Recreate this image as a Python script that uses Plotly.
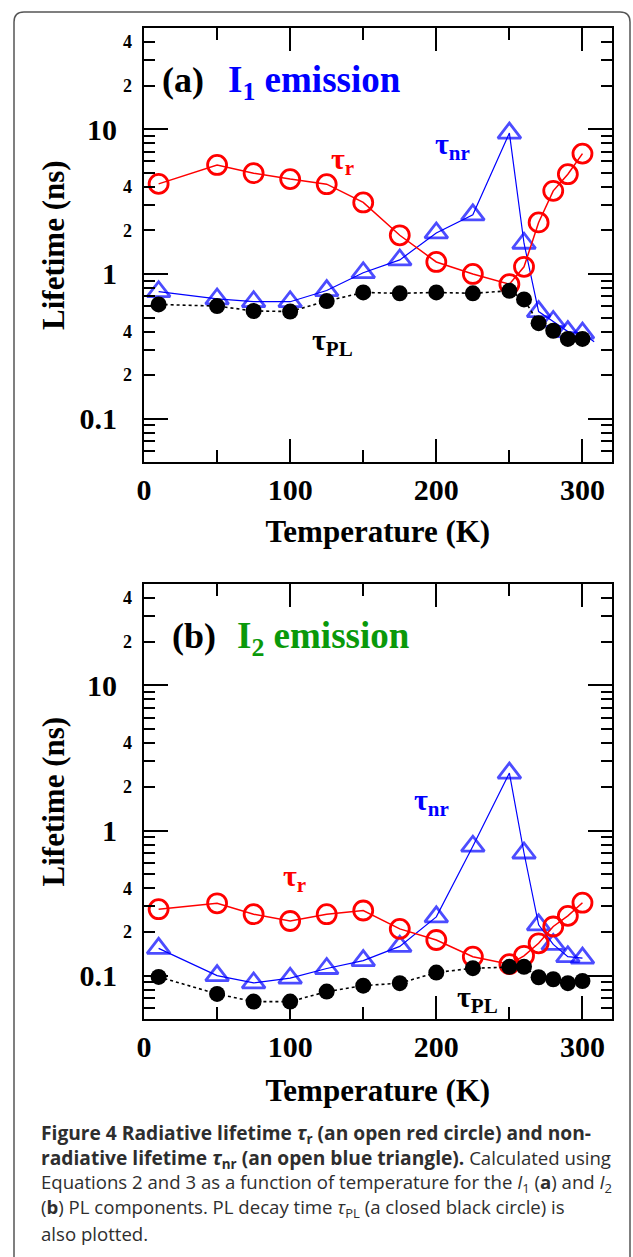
import math
import plotly.graph_objects as go

# ---------------- data ----------------
temps = [10, 50, 75, 100, 125, 150, 175, 200, 225, 250, 260, 270, 280, 290, 300]

a_tau_r = [4.19, 5.66, 4.97, 4.52, 4.17, 3.12, 1.85, 1.21, 1.0, 0.85, 1.12, 2.27, 3.75, 4.89, 6.78]
a_tau_nr_T = temps + [308]
a_tau_nr = [0.754, 0.672, 0.643, 0.643, 0.768, 1.02, 1.25, 1.92, 2.56, 9.4, 1.63, 0.55, 0.47, 0.40, 0.39, 0.34]
a_tau_pl = [0.616, 0.60, 0.555, 0.55, 0.65, 0.745, 0.735, 0.745, 0.735, 0.765, 0.667, 0.457, 0.405, 0.356, 0.356]

b_tau_r = [0.287, 0.315, 0.265, 0.238, 0.265, 0.281, 0.21, 0.176, 0.135, 0.12, 0.137, 0.167, 0.218, 0.258, 0.318]
b_tau_nr = [0.154, 0.100, 0.089, 0.096, 0.112, 0.127, 0.159, 0.254, 0.78, 2.49, 0.70, 0.224, 0.164, 0.135, 0.132]
b_tau_pl = [0.098, 0.0748, 0.0662, 0.0662, 0.0776, 0.0853, 0.0887, 0.105, 0.1125, 0.115, 0.115, 0.0975, 0.0944, 0.0887, 0.0918]

x_major = [0, 100, 200, 300]
x_minor = [50, 150, 250]
y_major = [0.1, 1, 10]
y_major_text = ["0.1", "1", "10"]
y_label_minor = [0.2, 0.4, 2, 4, 20, 40]
y_label_minor_text = ["2", "4", "2", "4", "2", "4"]
y_minor = [0.06, 0.07, 0.08, 0.09, 0.2, 0.3, 0.4, 0.5, 0.6, 0.7, 0.8, 0.9,
           2, 3, 4, 5, 6, 7, 8, 9, 20, 30, 40]

Y_RANGE = [math.log10(0.05), math.log10(50)]
X_RANGE = [0, 320]

W, H = 633, 1257
SERIF = "Liberation Serif"
RED, BLUE, GREEN = "#ff0000", "#0000ff", "#0a990a"

def px_x(p):
    return p / W

def px_y(p):
    return 1 - p / H

fig = go.Figure()

panels = [
    dict(xa="x", ya="y", ya_minor="y3", r=a_tau_r, nr_T=a_tau_nr_T, nr=a_tau_nr, pl=a_tau_pl),
    dict(xa="x2", ya="y2", ya_minor="y4", r=b_tau_r, nr_T=temps, nr=b_tau_nr, pl=b_tau_pl),
]

for p in panels:
    sizes = [20] * len(p["nr"])
    if len(p["nr"]) > len(temps):
        sizes[-1] = 0
    fig.add_trace(go.Scatter(
        x=p["nr_T"], y=p["nr"], xaxis=p["xa"], yaxis=p["ya"], mode="lines+markers",
        line=dict(color=BLUE, width=1.2),
        marker=dict(symbol="triangle-up-open", size=sizes, color=BLUE, line=dict(width=2.8, color=BLUE)),
        showlegend=False, hoverinfo="skip"))
    fig.add_trace(go.Scatter(
        x=temps, y=p["r"], xaxis=p["xa"], yaxis=p["ya"], mode="lines+markers",
        line=dict(color=RED, width=1.5),
        marker=dict(symbol="circle-open", size=19, color=RED, line=dict(width=2.8, color=RED)),
        showlegend=False, hoverinfo="skip"))
    fig.add_trace(go.Scatter(
        x=temps, y=p["pl"], xaxis=p["xa"], yaxis=p["ya"], mode="lines+markers",
        line=dict(color="black", width=1.6, dash="dot"),
        marker=dict(symbol="circle", size=16, color="black"),
        showlegend=False, hoverinfo="skip"))
    # dummy trace so the label-only overlay axis exists
    fig.add_trace(go.Scatter(x=[None], y=[None], xaxis=p["xa"], yaxis=p["ya_minor"],
                             showlegend=False, hoverinfo="skip"))

x_dom = [px_x(144), px_x(611.7)]

def xaxis_cfg(anchor, title_standoff):
    return dict(
        domain=x_dom, anchor=anchor, range=X_RANGE, showgrid=False, zeroline=False,
        automargin=False,
        showline=True, linewidth=2, linecolor="black", mirror="ticks",
        tickmode="array", tickvals=x_major, ticktext=[str(v) for v in x_major],
        ticks="inside", ticklen=23, tickwidth=2, tickcolor="black",
        minor=dict(tickmode="array", tickvals=x_minor, ticks="inside", ticklen=12,
                   tickwidth=2, tickcolor="black", showgrid=False),
        tickfont=dict(family=SERIF, size=30, color="black", weight="bold"),
        ticklabelstandoff=0,
        title=dict(text="Temperature (K)", font=dict(family=SERIF, size=31, color="black", weight="bold"),
                   standoff=title_standoff),
    )

def yaxis_cfg(anchor, top, bottom):
    return dict(
        domain=[px_y(bottom), px_y(top)], anchor=anchor, type="log", range=Y_RANGE,
        showgrid=False, zeroline=False, automargin=False,
        showline=True, linewidth=2, linecolor="black", mirror="ticks",
        tickmode="array", tickvals=y_major, ticktext=y_major_text,
        ticks="inside", ticklen=24, tickwidth=2, tickcolor="black",
        minor=dict(tickmode="array", tickvals=y_minor, ticks="inside", ticklen=11,
                   tickwidth=2, tickcolor="black", showgrid=False),
        tickfont=dict(family=SERIF, size=30, color="black", weight="bold"),
        ticklabelstandoff=19,
        title=dict(text="Lifetime (ns)", font=dict(family=SERIF, size=31, color="black", weight="bold"),
                   standoff=6),
    )

def yaxis_minor_cfg(overlay, anchor):
    return dict(
        overlaying=overlay, anchor=anchor, type="log", range=Y_RANGE, side="left",
        showgrid=False, zeroline=False, showline=False, automargin=False,
        tickmode="array", tickvals=y_label_minor, ticktext=y_label_minor_text, ticks="",
        tickfont=dict(family=SERIF, size=18, color="black", weight="bold"),
        ticklabelstandoff=11,
    )

fig.update_layout(
    template="none",
    width=W, height=H, margin=dict(l=0, r=0, t=0, b=0, autoexpand=False),
    paper_bgcolor="white", plot_bgcolor="white",
    xaxis=xaxis_cfg("y", 15),
    xaxis2=xaxis_cfg("y2", 17),
    yaxis=yaxis_cfg("x", 28, 462.3),
    yaxis2=yaxis_cfg("x2", 584, 1019.3),
    yaxis3=yaxis_minor_cfg("y", "x"),
    yaxis4=yaxis_minor_cfg("y2", "x2"),
)

ann = []
def label(text, x, ly, xref, yref, color, size=30, xanchor="center"):
    ann.append(dict(text=text, x=x, y=ly, xref=xref, yref=yref, showarrow=False,
                    xanchor=xanchor, yanchor="middle",
                    font=dict(family=SERIF, size=size, color=color, weight="bold")))

# panel (a)
label("(a)", 10.9, 1.337, "x", "y", "black", size=36, xanchor="left")
label("I<sub>1</sub> emission", 56.0, 1.325, "x", "y", BLUE, size=37, xanchor="left")
label("τ<sub>r</sub>", 136, 0.78, "x", "y", RED)
label("τ<sub>nr</sub>", 211, 0.885, "x", "y", BLUE)
label("τ<sub>PL</sub>", 129, -0.47, "x", "y", "black")
# panel (b)
label("(b)", 17.5, 1.34, "x2", "y2", "black", size=36, xanchor="left")
label("I<sub>2</sub> emission", 62, 1.32, "x2", "y2", GREEN, size=37, xanchor="left")
label("τ<sub>r</sub>", 103, -0.325, "x2", "y2", RED)
label("τ<sub>nr</sub>", 197, 0.20, "x2", "y2", BLUE)
label("τ<sub>PL</sub>", 228, -1.16, "x2", "y2", "black")

BS = "<span style='font-size:19.2px'><b>"
BE = "</b></span>"
caption_lines = [
    BS + "Figure 4 Radiative lifetime <i>τ</i><sub>r</sub> (an open red circle) and non-" + BE,
    BS + "radiative lifetime <i>τ</i><sub>nr</sub> (an open blue triangle)." + BE + " Calculated using",
    "Equations 2 and 3 as a function of temperature for the <i>I</i><sub>1</sub> (<b>a</b>) and <i>I</i><sub>2</sub>",
    "(<b>b</b>) PL components. PL decay time <i>τ</i><sub>PL</sub> (a closed black circle) is",
    "also plotted.",
]
cap_y = [1133, 1158, 1183, 1208, 1233]
for t, yy in zip(caption_lines, cap_y):
    ann.append(dict(text=t, x=px_x(39), y=px_y(yy), xref="paper", yref="paper",
                    showarrow=False, xanchor="left", yanchor="middle", align="left",
                    font=dict(family="Open Sans", size=18.6, color="#2e2e2e")))

fig.update_layout(annotations=ann)

# outer rounded frame
x0, x1, y0, yb, rad = 14, 630, 12, 1270, 10
path = (f"M {px_x(x0)},{px_y(yb)} L {px_x(x0)},{px_y(y0 + rad)} "
        f"Q {px_x(x0)},{px_y(y0)} {px_x(x0 + rad)},{px_y(y0)} "
        f"L {px_x(x1 - rad)},{px_y(y0)} Q {px_x(x1)},{px_y(y0)} {px_x(x1)},{px_y(y0 + rad)} "
        f"L {px_x(x1)},{px_y(yb)}")
fig.add_shape(type="path", path=path, xref="paper", yref="paper",
              line=dict(color="#555555", width=1.5))

fig.write_html("out.html", config={"displayModeBar": False},
               post_script="document.body.style.margin='0';")
